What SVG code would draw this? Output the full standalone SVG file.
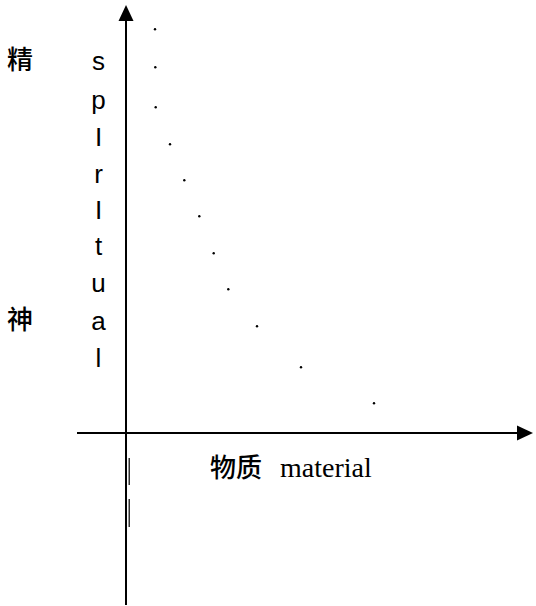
<svg xmlns="http://www.w3.org/2000/svg" width="536" height="606" viewBox="0 0 536 606">
<style>
.axis{stroke:#000;stroke-width:2;fill:none}
.tick{stroke:#000;stroke-width:1.2}
.cjk{font-family:"Noto Sans CJK SC","Noto Sans",sans-serif;font-size:26px;font-weight:500;fill:#000}
.sans{font-family:"Liberation Sans","DejaVu Sans",sans-serif;font-size:26px;fill:#000}
.serif{font-family:"Liberation Serif","Noto Sans CJK SC",serif;font-size:28px;fill:#000}
.dot{fill:#000}
</style>
<rect width="536" height="606" fill="#fff"/>
<g id="connectors">
  <line class="axis" x1="126" y1="18" x2="126" y2="605"/>
  <polygon points="126,5 118.5,21 133.5,21" fill="#000"/>
  <line class="axis" x1="77" y1="433" x2="520" y2="433"/>
  <polygon points="533,433 517,425.5 517,440.5" fill="#000"/>
  <line class="tick" x1="129.2" y1="458" x2="129.2" y2="485"/>
  <line class="tick" x1="129.2" y1="499" x2="129.2" y2="527"/>
</g>
<g id="dots">
  <circle class="dot" cx="155" cy="29.3" r="1.2"/>
  <circle class="dot" cx="155.3" cy="67.3" r="1.2"/>
  <circle class="dot" cx="155.7" cy="107.3" r="1.2"/>
  <circle class="dot" cx="170" cy="144.3" r="1.2"/>
  <circle class="dot" cx="184.3" cy="180.3" r="1.2"/>
  <circle class="dot" cx="199.3" cy="216.3" r="1.2"/>
  <circle class="dot" cx="213.7" cy="253.3" r="1.2"/>
  <circle class="dot" cx="228.3" cy="289.3" r="1.2"/>
  <circle class="dot" cx="257" cy="326.3" r="1.2"/>
  <circle class="dot" cx="301" cy="367.3" r="1.2"/>
  <circle class="dot" cx="374" cy="403.3" r="1.2"/>
</g>
<g id="label-jing"><text class="cjk" x="7" y="69">精</text></g>
<g id="label-shen"><text class="cjk" x="7" y="329">神</text></g>
<g id="label-spiritual">
  <text class="sans" text-anchor="middle" x="98.5" y="70">s</text>
  <text class="sans" text-anchor="middle" x="98.5" y="109">p</text>
  <text class="sans" text-anchor="middle" x="98.5" y="146">I</text>
  <text class="sans" text-anchor="middle" x="98.5" y="183">r</text>
  <text class="sans" text-anchor="middle" x="98.5" y="219">I</text>
  <text class="sans" text-anchor="middle" x="98.5" y="255">t</text>
  <text class="sans" text-anchor="middle" x="98.5" y="292">u</text>
  <text class="sans" text-anchor="middle" x="98.5" y="330">a</text>
  <text class="sans" text-anchor="middle" x="98.5" y="367">l</text>
</g>
<g id="label-material">
  <text class="cjk" x="210" y="477">物质</text>
  <text class="serif" x="280" y="477">material</text>
</g>
</svg>
